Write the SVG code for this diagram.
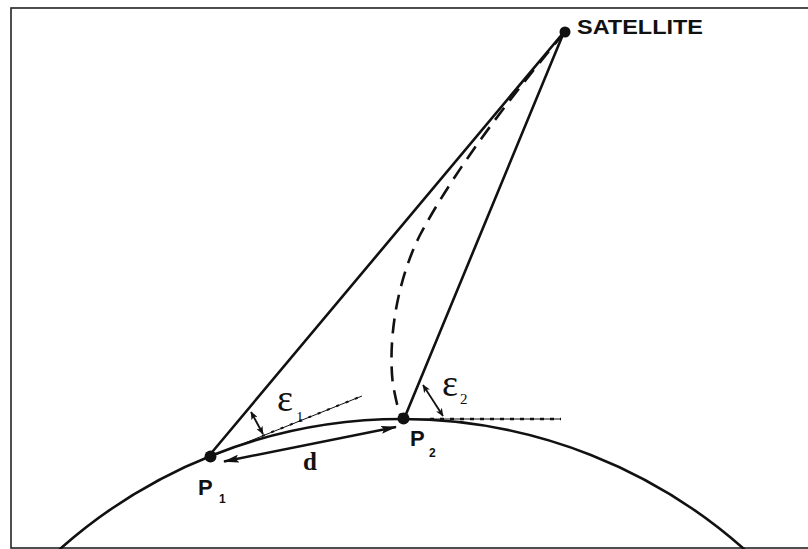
<svg xmlns="http://www.w3.org/2000/svg" width="808" height="549" viewBox="0 0 808 549">
<style>
.ln{fill:none;stroke:#111;stroke-width:2.6;stroke-linecap:round}
.dash{fill:none;stroke:#111;stroke-width:2.6;stroke-dasharray:15 9}
.thin{fill:none;stroke:#111;stroke-width:1}
.tick{fill:none;stroke:#111;stroke-width:2.6;stroke-dasharray:4 6}
.arr{fill:none;stroke:#111;stroke-width:1.8}
.dot{fill:#111}
.sans{font-family:"Liberation Sans",Arial,sans-serif;font-weight:bold;fill:#111}
.serif{font-family:"Liberation Serif","Times New Roman",serif;fill:#111}
</style>
<defs>
<marker id="big" viewBox="0 0 16 8" refX="15" refY="4" markerWidth="16" markerHeight="8" markerUnits="userSpaceOnUse" orient="auto-start-reverse">
<path d="M0,0 L16,4 L0,8 L3,4 Z" fill="#111"/>
</marker>
<marker id="sm" viewBox="0 0 8 7" refX="7.5" refY="3.5" markerWidth="8" markerHeight="7" markerUnits="userSpaceOnUse" orient="auto-start-reverse">
<path d="M0,0 L8,3.5 L0,7 L2,3.5 Z" fill="#111"/>
</marker>
</defs>
<rect x="11" y="8" width="800" height="540" fill="#fff" stroke="#222" stroke-width="1.6"/>
<g id="earth">
<path class="ln" d="M60,549 A515,515 0 0 1 744,549"/>
</g>
<g id="connectors">
<line class="ln" x1="208" y1="457" x2="564" y2="32"/>
<line class="ln" x1="404" y1="419" x2="564" y2="32"/>
<path class="dash" d="M564,33 C525,80 460,160 420,235 C395,285 388,345 393,385 C396,400 398,410 401,416"/>
<line class="thin" x1="210" y1="457" x2="362" y2="396"/>
<line class="tick" x1="262" y1="436" x2="362" y2="396" style="stroke-width:2;stroke-dasharray:3 7"/>
<line class="thin" x1="404" y1="419" x2="561" y2="419"/>
<line class="tick" x1="430" y1="419" x2="561" y2="419"/>
<line class="arr" x1="224" y1="461.5" x2="396" y2="427" marker-start="url(#big)" marker-end="url(#big)" style="stroke-width:2.4"/>
<line class="arr" x1="251" y1="412" x2="263" y2="434" marker-start="url(#sm)" marker-end="url(#sm)"/>
<line class="arr" x1="423" y1="385" x2="443" y2="416" marker-start="url(#sm)" marker-end="url(#sm)"/>
</g>
<g id="satellite">
<circle class="dot" cx="565" cy="32" r="5.5"/>
<text class="sans" x="577" y="33.5" font-size="21" textLength="126" lengthAdjust="spacingAndGlyphs">SATELLITE</text>
</g>
<g id="p1">
<circle class="dot" cx="210.5" cy="456.5" r="6"/>
<text class="sans" x="198" y="495" font-size="22">P</text>
<text class="sans" x="219" y="503" font-size="12">1</text>
</g>
<g id="p2">
<circle class="dot" cx="403.5" cy="418.5" r="6"/>
<text class="sans" x="410" y="445.5" font-size="22">P</text>
<text class="sans" x="429" y="456.5" font-size="12">2</text>
</g>
<g id="labels">
<text class="serif" x="303" y="470" font-size="25" font-weight="bold">d</text>
<text class="serif" x="277" y="411" font-size="38">ε</text>
<text class="serif" x="296" y="422" font-size="15">1</text>
<text class="serif" x="442" y="396" font-size="38">ε</text>
<text class="serif" x="460" y="404" font-size="15">2</text>
</g>
</svg>
